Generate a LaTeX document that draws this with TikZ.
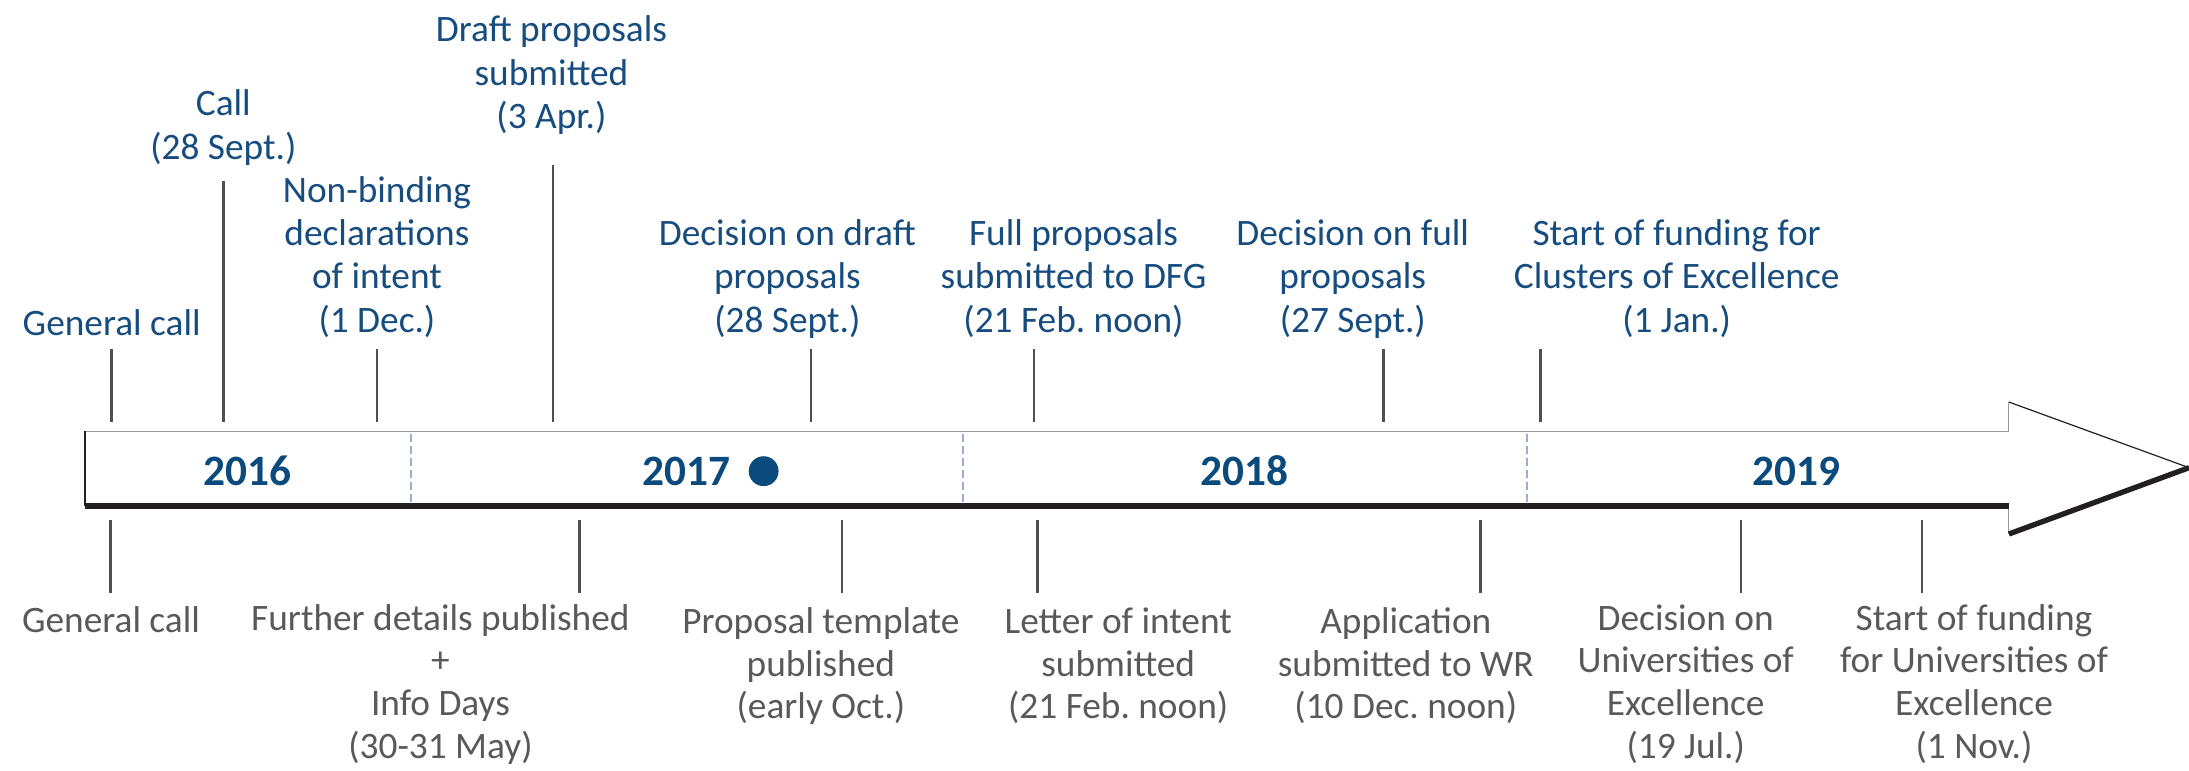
\documentclass[tikz,border=0pt]{standalone}
\usepackage{fontspec}
\setmainfont{Carlito}
\frenchspacing
\definecolor{lblblue}{HTML}{174C7F}
\definecolor{yearblue}{HTML}{0B4A7C}
\definecolor{lblgray}{HTML}{595959}
\definecolor{tickgray}{HTML}{505050}
\definecolor{sepblue}{HTML}{9AAECD}
\definecolor{barblack}{HTML}{231F20}
\begin{document}
\begin{tikzpicture}[x=1.047pt,y=-1.047pt,
  toplbl/.style={text=lblblue,align=center,anchor=base,inner sep=0pt,font={\fontsize{28}{32.5}\selectfont\frenchspacing}},
  botlbl/.style={text=lblgray,align=center,anchor=base,inner sep=0pt,font={\fontsize{28}{32}\selectfont\frenchspacing}},
  yearlbl/.style={text=yearblue,anchor=base,inner sep=0pt,font={\fontsize{32.5}{36}\selectfont\bfseries}},
  tickline/.style={draw=tickgray,line width=1.9pt},
  sepline/.style={draw=sepblue,line width=1.8pt,dash pattern=on 5.5pt off 3.5pt},
  thinedge/.style={draw=gray!80,line width=0.8pt},
  thickedge/.style={draw=barblack,line width=4pt},
]
\useasboundingbox (0,0) rectangle (1568,552);
% arrow body
\coordinate (bl) at (61,309);
\coordinate (blb) at (61,362.5);
\coordinate (ht) at (1439,309);
\coordinate (htt) at (1439,288);
\coordinate (tip) at (1568,335);
\coordinate (hbb) at (1439,382.5);
\coordinate (hb) at (1439,362.5);
\fill[white] (bl) -- (ht) -- (htt) -- (tip) -- (hbb) -- (hb) -- (blb) -- cycle;
\draw[thinedge] (bl) -- (ht) -- (htt);
\draw[draw=barblack,line width=0.9pt] (htt) -- (tip);
\draw[thinedge] (hbb) -- (hb);
\draw[thickedge] (tip) -- (hbb);
\draw[thickedge] (hb) -- (blb);
\draw[draw=barblack,line width=1.2pt] (bl) -- (blb);
% year separators
\foreach \n/\x in {s1/294.6,s2/689.6,s3/1093.6}{
  \coordinate (\n t) at (\x,311);
  \coordinate (\n b) at (\x,362);
  \draw[sepline] (\n t) -- (\n b);
}
% years
\node[yearlbl] (y16) at (177,348) {2016};
\node[yearlbl] (y17) at (492,348) {2017};
\fill[yearblue] (547,337.5) circle (10.7);
\node[yearlbl] (y18) at (891.5,348) {2018};
\node[yearlbl] (y19) at (1286.5,348) {2019};
% top labels (anchored at last line baseline)
\node[toplbl] (t1) at (80,240) {General call};
\node[toplbl] (t2) at (160,114) {Call\\(28 Sept.)};
\node[toplbl] (t3) at (270,238) {Non-binding\\declarations\\of intent\\(1 Dec.)};
\node[toplbl] (t4) at (395,92) {Draft proposals\\submitted\\(3 Apr.)};
\node[toplbl] (t5) at (564,238) {Decision on draft\\proposals\\(28 Sept.)};
\node[toplbl] (t6) at (769,238) {Full proposals\\submitted to DFG\\(21 Feb. noon)};
\node[toplbl] (t7) at (969,238) {Decision on full\\proposals\\(27 Sept.)};
\node[toplbl] (t8) at (1201,238) {Start of funding for\\Clusters of Excellence\\(1 Jan.)};
% top ticks
\foreach \n/\x/\y in {a1/80/250,a2/160/130,a3/270/250,a4/396/118,a5/581/250,a6/740.5/250,a7/991/250,a8/1103.5/250}{
  \coordinate (\n t) at (\x,\y);
  \coordinate (\n b) at (\x,302);
  \draw[tickline] (\n t) -- (\n b);
}
% bottom labels (anchored at last line baseline)
\node[botlbl] (b1) at (79.5,453) {General call};
\node[botlbl] (b2) at (315.5,543) {Further details published\\+\\Info Days\\(30-31 May)};
\node[botlbl] (b3) at (588,515) {Proposal template\\published\\(early Oct.)};
\node[botlbl] (b4) at (801,515) {Letter of intent\\submitted\\(21 Feb. noon)};
\node[botlbl] (b5) at (1007,515) {Application\\submitted to WR\\(10 Dec. noon)};
\node[botlbl] (b6) at (1207.5,543) {Decision on\\Universities of\\Excellence\\(19 Jul.)};
\node[botlbl] (b7) at (1414,543) {Start of funding\\for Universities of\\Excellence\\(1 Nov.)};
% bottom ticks
\foreach \n/\x in {c1/79,c2/415,c3/603,c4/743,c5/1060.6,c6/1247,c7/1376.6}{
  \coordinate (\n t) at (\x,372.5);
  \coordinate (\n b) at (\x,425);
  \draw[tickline] (\n t) -- (\n b);
}
\end{tikzpicture}
\end{document}
